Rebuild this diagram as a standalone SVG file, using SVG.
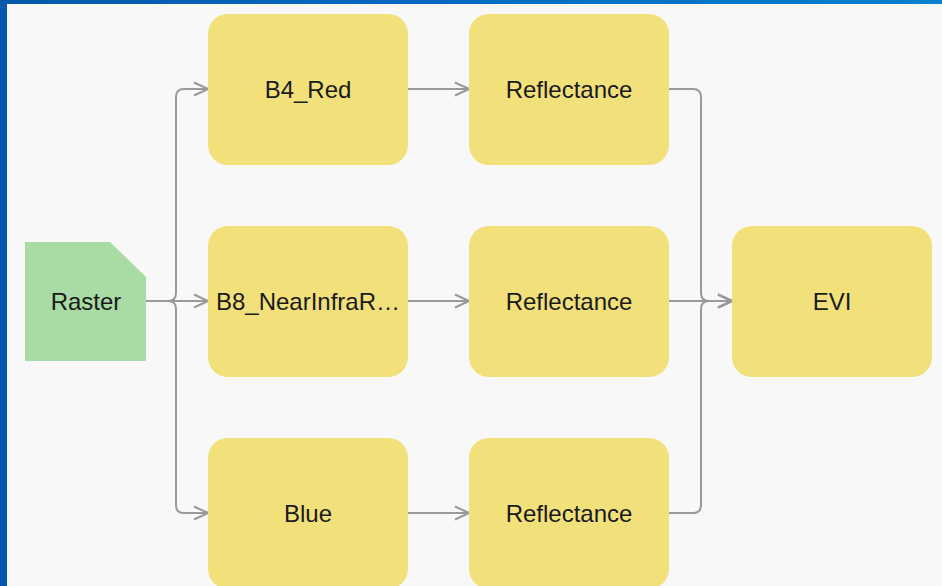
<svg xmlns="http://www.w3.org/2000/svg" width="942" height="586" viewBox="0 0 942 586">
<defs>
<linearGradient id="bg" x1="0" y1="0" x2="1" y2="0">
<stop offset="0" stop-color="#0558ac"/>
<stop offset="1" stop-color="#0980d0"/>
</linearGradient>
<marker id="arr" markerWidth="16" markerHeight="16" refX="15" refY="8" orient="auto" markerUnits="userSpaceOnUse">
<path d="M1,1.5 L15,8 L1,14.5" fill="none" stroke="#9a9a9a" stroke-width="2"/>
</marker>
<style>
.n{fill:#f2e17a}
.t{font-family:"Liberation Sans",Arial,sans-serif;font-size:24px;fill:#1a1a1a;text-anchor:middle}
.c{fill:none;stroke:#9a9a9a;stroke-width:2}
</style>
</defs>
<rect x="0" y="0" width="942" height="586" fill="url(#bg)"/>
<rect x="7" y="4" width="935" height="582" fill="#f8f8f8"/>
<g id="connectors">
<path class="c" d="M146,301 H168 Q176,301 176,293 V97 Q176,89 184,89 H208" marker-end="url(#arr)"/>
<path class="c" d="M146,301 H208" marker-end="url(#arr)"/>
<path class="c" d="M146,301 H168 Q176,301 176,309 V505 Q176,513 184,513 H208" marker-end="url(#arr)"/>
<path class="c" d="M408,89 H469" marker-end="url(#arr)"/>
<path class="c" d="M408,301 H469" marker-end="url(#arr)"/>
<path class="c" d="M408,513 H469" marker-end="url(#arr)"/>
<path class="c" d="M669,89 H693 Q701,89 701,97 V293 Q701,301 709,301 H732" marker-end="url(#arr)"/>
<path class="c" d="M669,301 H732" marker-end="url(#arr)"/>
<path class="c" d="M669,513 H693 Q701,513 701,505 V309 Q701,301 709,301 H732" marker-end="url(#arr)"/>
</g>
<g id="raster">
<path d="M25,242 H110 L146,277 V361 H25 Z" fill="#a9dca5"/>
<text class="t" x="86" y="310">Raster</text>
</g>
<g id="b4red">
<rect class="n" x="208" y="14" width="200" height="151" rx="20"/>
<text class="t" x="308" y="98">B4_Red</text>
</g>
<g id="b8nir">
<rect class="n" x="208" y="226" width="200" height="151" rx="20"/>
<text class="t" x="308" y="310">B8_NearInfraR…</text>
</g>
<g id="blue">
<rect class="n" x="208" y="438" width="200" height="151" rx="20"/>
<text class="t" x="308" y="522">Blue</text>
</g>
<g id="refl1">
<rect class="n" x="469" y="14" width="200" height="151" rx="20"/>
<text class="t" x="569" y="98">Reflectance</text>
</g>
<g id="refl2">
<rect class="n" x="469" y="226" width="200" height="151" rx="20"/>
<text class="t" x="569" y="310">Reflectance</text>
</g>
<g id="refl3">
<rect class="n" x="469" y="438" width="200" height="151" rx="20"/>
<text class="t" x="569" y="522">Reflectance</text>
</g>
<g id="evi">
<rect class="n" x="732" y="226" width="200" height="151" rx="20"/>
<text class="t" x="832" y="310">EVI</text>
</g>
</svg>
